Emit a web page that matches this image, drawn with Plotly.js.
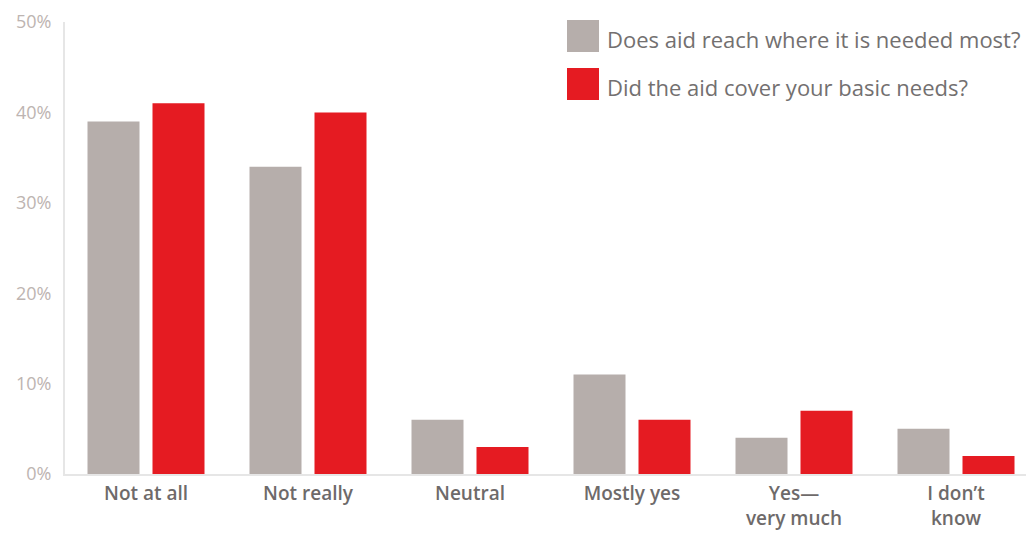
<!DOCTYPE html>
<html>
<head>
<meta charset="utf-8">
<script src="https://cdn.plot.ly/plotly-3.0.1.min.js"></script>
<style>html,body{margin:0;padding:0;background:#fff;}#chart{width:1026px;height:533px;}</style>
</head>
<body>
<div id="chart"></div>
<script>
const categories = ["Not at all", "Not really", "Neutral", "Mostly yes", "Yes—<br>very much", "I don’t<br>know"];
const seriesNames = ["Does aid reach where it is needed most?", "Did the aid cover your basic needs?"];
const reachValues = [39, 34, 6, 11, 4, 5];
const coverValues = [41, 40, 3, 6, 7, 2];
const yTicks = [0, 10, 20, 30, 40, 50];
const colors = ["#b6aeab", "#e51b22"];

const W = 1026, H = 533;
const margin = {l: 65, r: 0, t: 22, b: 59};
const pw = W - margin.l - margin.r, ph = H - margin.t - margin.b;
const px = x => (x - margin.l) / pw;
const py = y => (H - margin.b - y) / ph;

const traces = [reachValues, coverValues].map((vals, i) => ({
  type: "bar",
  x: categories,
  y: vals,
  name: seriesNames[i],
  marker: {color: colors[i]},
  hoverinfo: "x+y+name"
}));

const shapes = [], annotations = [];
const legendTops = [20, 68];
seriesNames.forEach((n, i) => {
  const top = legendTops[i];
  shapes.push({type: "rect", xref: "paper", yref: "paper",
    x0: px(567), x1: px(599), y0: py(top + 32), y1: py(top),
    fillcolor: colors[i], line: {width: 0}});
  annotations.push({xref: "paper", yref: "paper", x: px(605), y: py(top + 19),
    xanchor: "left", yanchor: "middle", showarrow: false, text: n,
    font: {family: "Open Sans, sans-serif", size: 22, color: "#737070"}});
});

const layout = {
  width: W, height: H,
  margin: margin,
  paper_bgcolor: "#fff", plot_bgcolor: "#fff",
  showlegend: false,
  barmode: "group",
  bargap: 0.1975,
  bargroupgap: 0.2,
  xaxis: {
    range: [-0.5, -0.5 + pw / 162],
    showline: true, linecolor: "#e6e6e6", linewidth: 2,
    showgrid: false, zeroline: false, ticks: "",
    ticklabelstandoff: 1,
    tickfont: {family: "Open Sans, sans-serif", size: 19, color: "#6e6a6a", weight: 600},
    fixedrange: true
  },
  yaxis: {
    range: [0, 50],
    tickvals: yTicks,
    ticktext: yTicks.map(v => v + "%"),
    showline: true, linecolor: "#e6e6e6", linewidth: 2,
    showgrid: false, zeroline: false, ticks: "",
    ticklabelstandoff: 8,
    tickfont: {family: "Open Sans, sans-serif", size: 18, color: "#bdb4b1"},
    fixedrange: true
  },
  shapes: shapes,
  annotations: annotations
};

Plotly.newPlot("chart", traces, layout, {displayModeBar: false, staticPlot: true});
</script>
</body>
</html>
